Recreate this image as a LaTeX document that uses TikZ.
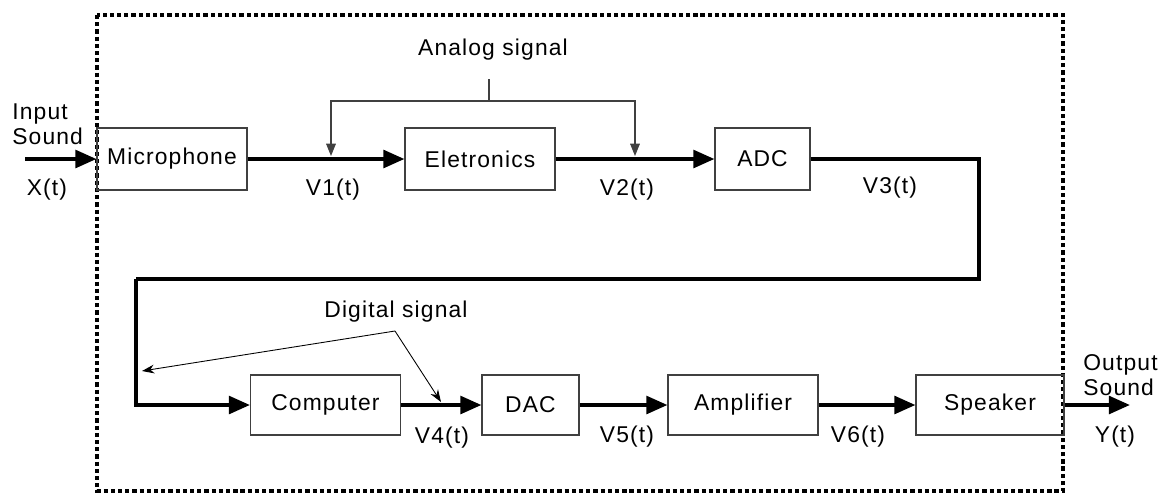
\documentclass[tikz,border=0pt]{standalone}
\usepackage{fontspec}
\setmainfont{Liberation Sans}[LetterSpace=5]
\usepackage{tikz}
\usetikzlibrary{arrows.meta, positioning}

\begin{document}
\begin{tikzpicture}[x=0.02cm, y=-0.02cm, font=\fontsize{13}{14.2}\selectfont]

    % Define styles for the nodes
    \tikzstyle{block} = [
        rectangle, text centered, draw=black!75, line width=0.6pt,
        minimum width=3cm, minimum height=1.24cm, inner sep=0pt
    ]
    \tikzstyle{signal} = [inner sep=0pt, text centered]
    \tikzstyle{arrow} = [line width=2.2pt, -{Triangle[length=12pt, width=10pt]}]
    \tikzstyle{wire} = [line width=2.2pt]
    \tikzstyle{bracket} = [line width=0.6pt, draw=black!75]
    \tikzstyle{pointer} = [line width=0.5pt, -{Stealth[length=7pt, width=5pt]}]
    \tikzstyle{frame} = [line width=2.4pt, dash pattern=on 2.4pt off 1.7pt]

    \useasboundingbox (0,0) rectangle (1161,495);

    % System boundary
    \draw [frame] (97,15) rectangle (1063,491);

    % Nodes
    \node (mic) [block] at (172,159) {Microphone};
    \node (elec) [block] at (480,159) {Eletronics};
    \node (adc) [block, minimum width=1.9cm] at (762.5,159) {ADC};
    \node (comp) [block, minimum height=1.2cm] at (325.5,405) {Computer};
    \node (dac) [block, minimum width=1.94cm, minimum height=1.2cm] at (530.5,405) {DAC};
    \node (amp) [block, minimum height=1.2cm] at (743,405) {Amplifier};
    \node (spk) [block, minimum width=2.96cm, minimum height=1.2cm] at (990,405) {Speaker};

    % Signal labels
    \node (insound) [signal, anchor=west, align=left] at (12,124) {Input\\Sound};
    \node (xt) [signal] at (47,190) {X(t)};
    \node (v1) [signal] at (333,190) {V1(t)};
    \node (v2) [signal] at (627,190) {V2(t)};
    \node (v3) [signal] at (890,188) {V3(t)};
    \node (v4) [signal] at (442,438) {V4(t)};
    \node (v5) [signal] at (627,437) {V5(t)};
    \node (v6) [signal] at (858,437) {V6(t)};
    \node (yt) [signal] at (1115,437) {Y(t)};
    \node (outsound) [signal, anchor=west, align=left] at (1083,375) {Output\\Sound};
    \node (analog) [signal] at (493,50) {Analog signal};
    \node (digital) [signal] at (396,312) {Digital signal};

    % Free ends and corners
    \coordinate (in) at (25,159);
    \coordinate (out) at (1130,405);
    \coordinate (turnA) at (979,279);
    \coordinate (turnB) at (136,279);
    \coordinate (anTop) at (489,79);
    \coordinate (anBar) at (489,101);
    \coordinate (anV1) at (331,156);
    \coordinate (anV2) at (635,156);
    \coordinate (dg) at (395,331);
    \coordinate (dgA) at (142,371);
    \coordinate (dgB) at (441,402);

    % Arrows
    \draw [arrow] (in) -- (mic.west);
    \draw [arrow] (mic) -- (elec);
    \draw [arrow] (elec) -- (adc);
    \draw [wire] (adc.east) -| (turnA) -- (turnB);
    \draw [arrow] (turnB) |- (comp.west);
    \draw [arrow] (comp) -- (dac);
    \draw [arrow] (dac) -- (amp);
    \draw [arrow] (amp) -- (spk);
    \draw [arrow] (spk.east) -- (out);

    % Analog signal bracket
    \draw [bracket] (anTop) -- (anBar);
    \draw [bracket, -{Triangle[length=7pt, width=5.5pt]}] (anBar) -| (anV1);
    \draw [bracket, -{Triangle[length=7pt, width=5.5pt]}] (anBar) -| (anV2);

    % Digital signal pointers
    \draw [pointer] (dg) -- (dgA);
    \draw [pointer] (dg) -- (dgB);

\end{tikzpicture}
\end{document}
